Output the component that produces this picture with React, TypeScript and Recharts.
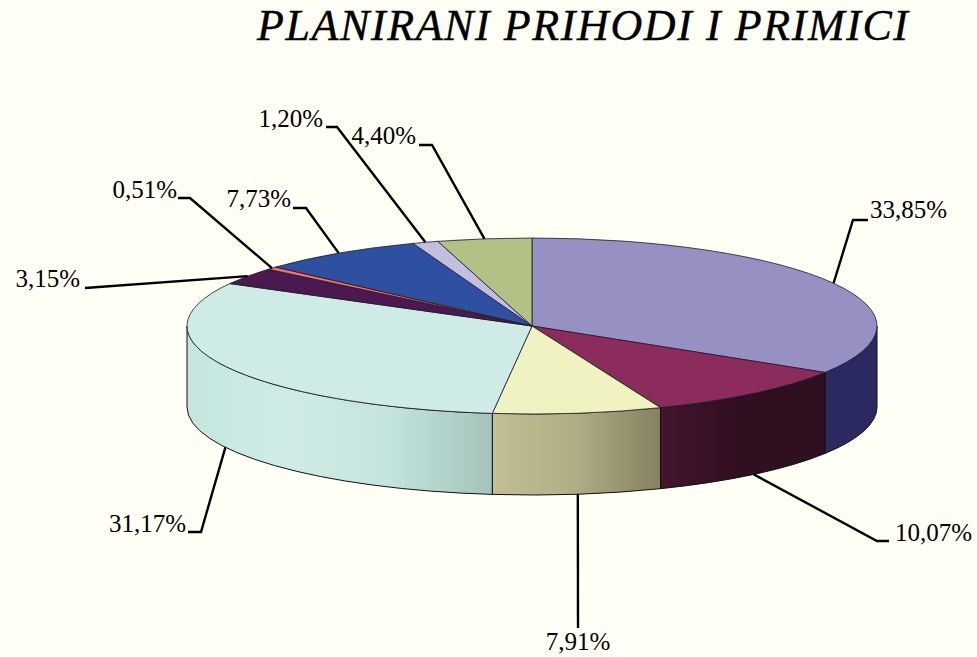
import { PieChart, Pie, Cell } from 'recharts';

const TITLE = 'PLANIRANI PRIHODI I PRIMICI';
const VALUES = [33.85, 10.07, 7.91, 31.17, 3.15, 0.51, 7.73, 1.2, 4.4];
const LABELS = ['33,85%', '10,07%', '7,91%', '31,17%', '3,15%', '0,51%', '7,73%', '1,20%', '4,40%'];
const COLORS = ['#9790C2', '#8B2C5C', '#F0F2C2', '#CFEBE6', '#4B1850', '#FF6E6E', '#2F50A0', '#C4BEDE', '#B2C286'];
const WALL_STOPS: string[][] = [
  ['#2A2A60', '#2A2A60'],
  ['#45152F', '#2F0F20', '#2F0F20'],
  ['#C4C094', '#B0AC84', '#85815F'],
  ['#C4E6DF', '#D0EBE6', '#C3E4DC', '#A3C3BB'],
  ['#2A0C2C', '#2A0C2C'],
  ['#802020', '#802020'],
  ['#18285A', '#18285A'],
  ['#70708A', '#70708A'],
  ['#62704A', '#62704A'],
];

// leader layout: elbow, end of the stub, text position, text anchor
const ELBOW_X = [853, 877, 578, 201, 85, 190, 306, 337, 432];
const ELBOW_Y = [220, 541, 628, 532, 288, 198, 208, 127, 145];
const STUB_X = [868, 889, 578, 188, 85, 178, 293, 326, 419];
const TEXT_X = [870, 895, 578, 186, 80, 177, 291, 323, 416];
const TEXT_Y = [218, 541, 650, 532, 287, 198, 207, 127, 144];
const TEXT_ANCHOR = ['start', 'start', 'middle', 'end', 'end', 'end', 'end', 'end', 'end'];

const WIDTH = 977;
const HEIGHT = 657;
const CX = 532;
const CY = 326;
const RX = 345;
const RY = 88;
const DEPTH = 81;

const data = VALUES.map((value, i) => ({ name: LABELS[i], value, index: i }));

const rad = (deg: number) => (deg * Math.PI) / 180;
const px = (angle: number) => CX + RX * Math.cos(rad(angle));
const py = (angle: number) => CY - RY * Math.sin(rad(angle));

function Slice3D(props: any) {
  const { startAngle, endAngle, fill, payload } = props;
  const i = payload.index ?? props.index;
  const sweep = Math.abs(endAngle - startAngle);
  const large = sweep > 180 ? 1 : 0;
  const top = `M${CX},${CY} L${px(startAngle)},${py(startAngle)} A${RX},${RY} 0 ${large} 1 ${px(endAngle)},${py(endAngle)} Z`;

  // the wall only shows on the front half, angles 0 to -180
  let wall = null;
  const a1 = Math.min(startAngle, 0);
  const a2 = Math.max(endAngle, -180);
  if (startAngle > -180 && endAngle < 0 && a1 > a2) {
    const d =
      `M${px(a1)},${py(a1)} A${RX},${RY} 0 0 1 ${px(a2)},${py(a2)} ` +
      `L${px(a2)},${py(a2) + DEPTH} A${RX},${RY} 0 0 0 ${px(a1)},${py(a1) + DEPTH} Z`;
    const stops = WALL_STOPS[i];
    const x1 = Math.min(px(a1), px(a2));
    const x2 = Math.max(px(a1), px(a2));
    wall = (
      <g>
        <defs>
          <linearGradient id={`wall-${i}`} gradientUnits="userSpaceOnUse" x1={x1} x2={x2} y1={0} y2={0}>
            {stops.map((c, k) => (
              <stop key={k} offset={k / (stops.length - 1)} stopColor={c} />
            ))}
          </linearGradient>
        </defs>
        <path d={d} fill={`url(#wall-${i})`} stroke="#111" strokeWidth={1} />
      </g>
    );
  }

  return (
    <g>
      {wall}
      <path d={top} fill={fill} stroke="#1a1a2a" strokeWidth={0.8} />
    </g>
  );
}

function LeaderLabel(props: any) {
  const { midAngle, index } = props;
  // start on the rim, or on the lower rim if the slice faces us
  const front = Math.sin(rad(midAngle)) < 0;
  const sx = px(midAngle);
  const sy = py(midAngle) + (front ? DEPTH : 0);
  const pts = `${sx},${sy} ${ELBOW_X[index]},${ELBOW_Y[index]} ${STUB_X[index]},${ELBOW_Y[index]}`;
  return (
    <g>
      <polyline points={pts} fill="none" stroke="#000" strokeWidth={2.4} />
      <text
        x={TEXT_X[index]}
        y={TEXT_Y[index]}
        textAnchor={TEXT_ANCHOR[index] as any}
        fontFamily="Liberation Serif"
        fontSize={25}
        fill="#000"
      >
        {LABELS[index]}
      </text>
    </g>
  );
}

export default function App() {
  return (
    <div style={{ position: 'absolute', left: 0, top: 0, width: WIDTH, height: HEIGHT, background: '#FFFFF5' }}>
      <PieChart width={WIDTH} height={HEIGHT} margin={{ top: 0, right: 0, bottom: 0, left: 0 }}>
        <text
          x={257}
          y={40}
          fontFamily="Liberation Serif"
          fontStyle="italic"
          fontSize={44}
          textLength={651}
          lengthAdjust="spacing"
          stroke="#000"
          strokeWidth={0.4}
          fill="#000"
        >
          {TITLE}
        </text>
        <Pie
          data={data}
          dataKey="value"
          nameKey="name"
          cx={CX}
          cy={CY}
          innerRadius={0}
          outerRadius={RX}
          startAngle={90}
          endAngle={-270}
          paddingAngle={0}
          stroke="none"
          shape={Slice3D}
          label={LeaderLabel}
          labelLine={false}
          isAnimationActive={false}
        >
          {data.map((entry, i) => (
            <Cell key={entry.name} fill={COLORS[i]} />
          ))}
        </Pie>
      </PieChart>
    </div>
  );
}
